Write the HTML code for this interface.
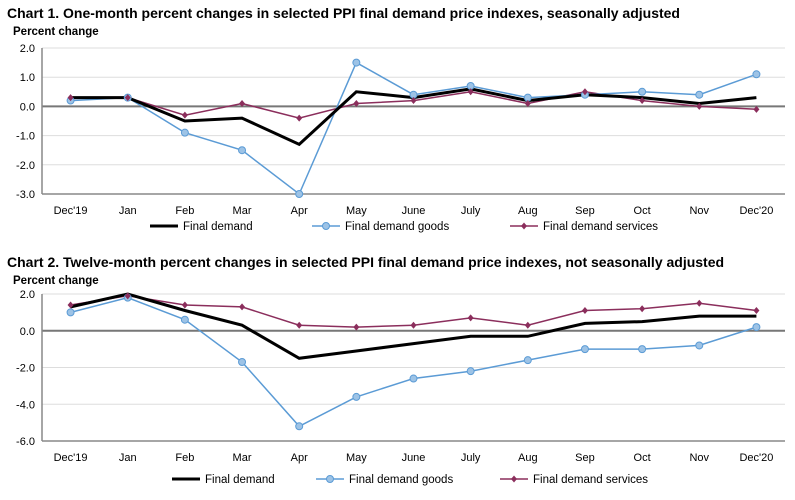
<!DOCTYPE html>
<html><head><meta charset="utf-8">
<style>
html,body{margin:0;padding:0;background:#fff;}
svg{display:block;font-family:"Liberation Sans",Arial,sans-serif;}
</style></head>
<body>
<svg id="s" width="795" height="500" viewBox="0 0 795 500" xmlns="http://www.w3.org/2000/svg"></svg>
<script>
const categories=["Dec'19","Jan","Feb","Mar","Apr","May","June","July","Aug","Sep","Oct","Nov","Dec'20"];
const c1Demand=[0.3,0.3,-0.5,-0.4,-1.3,0.5,0.3,0.6,0.2,0.4,0.3,0.1,0.3];
const c1Goods=[0.2,0.3,-0.9,-1.5,-3.0,1.5,0.4,0.7,0.3,0.4,0.5,0.4,1.1];
const c1Services=[0.3,0.3,-0.3,0.1,-0.4,0.1,0.2,0.5,0.1,0.5,0.2,0.0,-0.1];
const c1Ticks=[2,1,0,-1,-2,-3];
const c2Demand=[1.3,2.0,1.1,0.3,-1.5,-1.1,-0.7,-0.3,-0.3,0.4,0.5,0.8,0.8];
const c2Goods=[1.0,1.8,0.6,-1.7,-5.2,-3.6,-2.6,-2.2,-1.6,-1.0,-1.0,-0.8,0.2];
const c2Services=[1.4,1.9,1.4,1.3,0.3,0.2,0.3,0.7,0.3,1.1,1.2,1.5,1.1];
const c2Ticks=[2,0,-2,-4,-6];

const NS="http://www.w3.org/2000/svg";
const svg=document.getElementById('s');
function el(tag,attrs,parent,txt){const e=document.createElementNS(NS,tag);for(const k in attrs)e.setAttribute(k,attrs[k]);if(txt!==undefined)e.textContent=txt;(parent||svg).appendChild(e);return e;}
const GOODS="#5b9bd5",GFILL="#9dc3e6",SERV="#8b2e5c";

function chart(o){
  const g=el('g',{});
  
  
  const t=el('text',{x:7,y:o.titleY,'font-size':14,'font-weight':'bold',fill:'#000'},g,o.title);
  
  
  const yt=el('text',{x:13,y:o.titleY+17,'font-size':11.5,'font-weight':'bold',fill:'#000'},g,'Percent change');
  
  
  const L=42,R=785,n=categories.length,step=(R-L)/n;
  const yMax=o.ticks[0],yMin=o.ticks[o.ticks.length-1];
  const X=i=>L+step*(i+0.5);
  const Y=v=>o.top+(yMax-v)/(yMax-yMin)*(o.bottom-o.top);
  o.ticks.forEach(v=>{
    const gl=el('line',{x1:L,x2:R,y1:Y(v),y2:Y(v),stroke:v===0?'#777':'#ddd','stroke-width':v===0?2:1},g);
    
    
    const tl=el('text',{x:35,y:Y(v)+4,'font-size':11,fill:'#000','text-anchor':'end'},g,v.toFixed(1));
    
    
  });
  const ax=el('line',{x1:L,x2:L,y1:o.top,y2:o.bottom,stroke:'#888','stroke-width':1.5},g);
  
  
  const bx=el('line',{x1:L,x2:R,y1:o.bottom,y2:o.bottom,stroke:'#888','stroke-width':1.5},g);
  
  
  categories.forEach((c,i)=>{
    const xl=el('text',{x:X(i),y:o.bottom+20,'font-size':11,fill:'#000','text-anchor':'middle'},g,c);
    
    
  });
  const pts=a=>a.map((v,i)=>X(i).toFixed(1)+','+Y(v).toFixed(1)).join(' ');
  const ls=el('polyline',{points:pts(o.serv),fill:'none',stroke:SERV,'stroke-width':1.5},g);
  
  
  const lg=el('polyline',{points:pts(o.goods),fill:'none',stroke:GOODS,'stroke-width':1.5},g);
  
  
  const ld=el('polyline',{points:pts(o.demand),fill:'none',stroke:'#000','stroke-width':3},g);
  
  
  o.goods.forEach((v,i)=>{
    const c=el('circle',{cx:X(i),cy:Y(v),r:3.5,fill:GFILL,stroke:GOODS,'stroke-width':1},g);
    
    
  });
  o.serv.forEach((v,i)=>{
    const x=X(i),y=Y(v);
    const d=el('polygon',{points:`${x},${y-3.5} ${x+3},${y} ${x},${y+3.5} ${x-3},${y}`,fill:SERV},g);
    
    
  });
  const ly=o.legY;
  const lgd=el('g',{},g);
  
  
  const a=o.leg;
  const e1=el('line',{x1:a[0],x2:a[0]+28,y1:ly,y2:ly,stroke:'#000','stroke-width':3},lgd);
  
  
  el('text',{x:a[0]+33,y:ly+4,'font-size':11.5,fill:'#000'},lgd,'Final demand');
  const e2=el('line',{x1:a[1],x2:a[1]+28,y1:ly,y2:ly,stroke:GOODS,'stroke-width':1.5},lgd);
  
  
  el('circle',{cx:a[1]+14,cy:ly,r:3.5,fill:GFILL,stroke:GOODS},lgd);
  el('text',{x:a[1]+33,y:ly+4,'font-size':11.5,fill:'#000'},lgd,'Final demand goods');
  const e3=el('line',{x1:a[2],x2:a[2]+28,y1:ly,y2:ly,stroke:SERV,'stroke-width':1.5},lgd);
  
  
  const cx=a[2]+14;
  el('polygon',{points:`${cx},${ly-3.5} ${cx+3},${ly} ${cx},${ly+3.5} ${cx-3},${ly}`,fill:SERV},lgd);
  el('text',{x:a[2]+33,y:ly+4,'font-size':11.5,fill:'#000'},lgd,'Final demand services');
}
chart({name:'chart-one-month',title:'Chart 1. One-month percent changes in selected PPI final demand price indexes, seasonally adjusted',titleY:18,top:48,bottom:194,ticks:c1Ticks,demand:c1Demand,goods:c1Goods,serv:c1Services,legY:226,leg:[150,312,510]});
chart({name:'chart-twelve-month',title:'Chart 2. Twelve-month percent changes in selected PPI final demand price indexes, not seasonally adjusted',titleY:267,top:294,bottom:441,ticks:c2Ticks,demand:c2Demand,goods:c2Goods,serv:c2Services,legY:479,leg:[172,316,500]});
</script>
</body></html>
